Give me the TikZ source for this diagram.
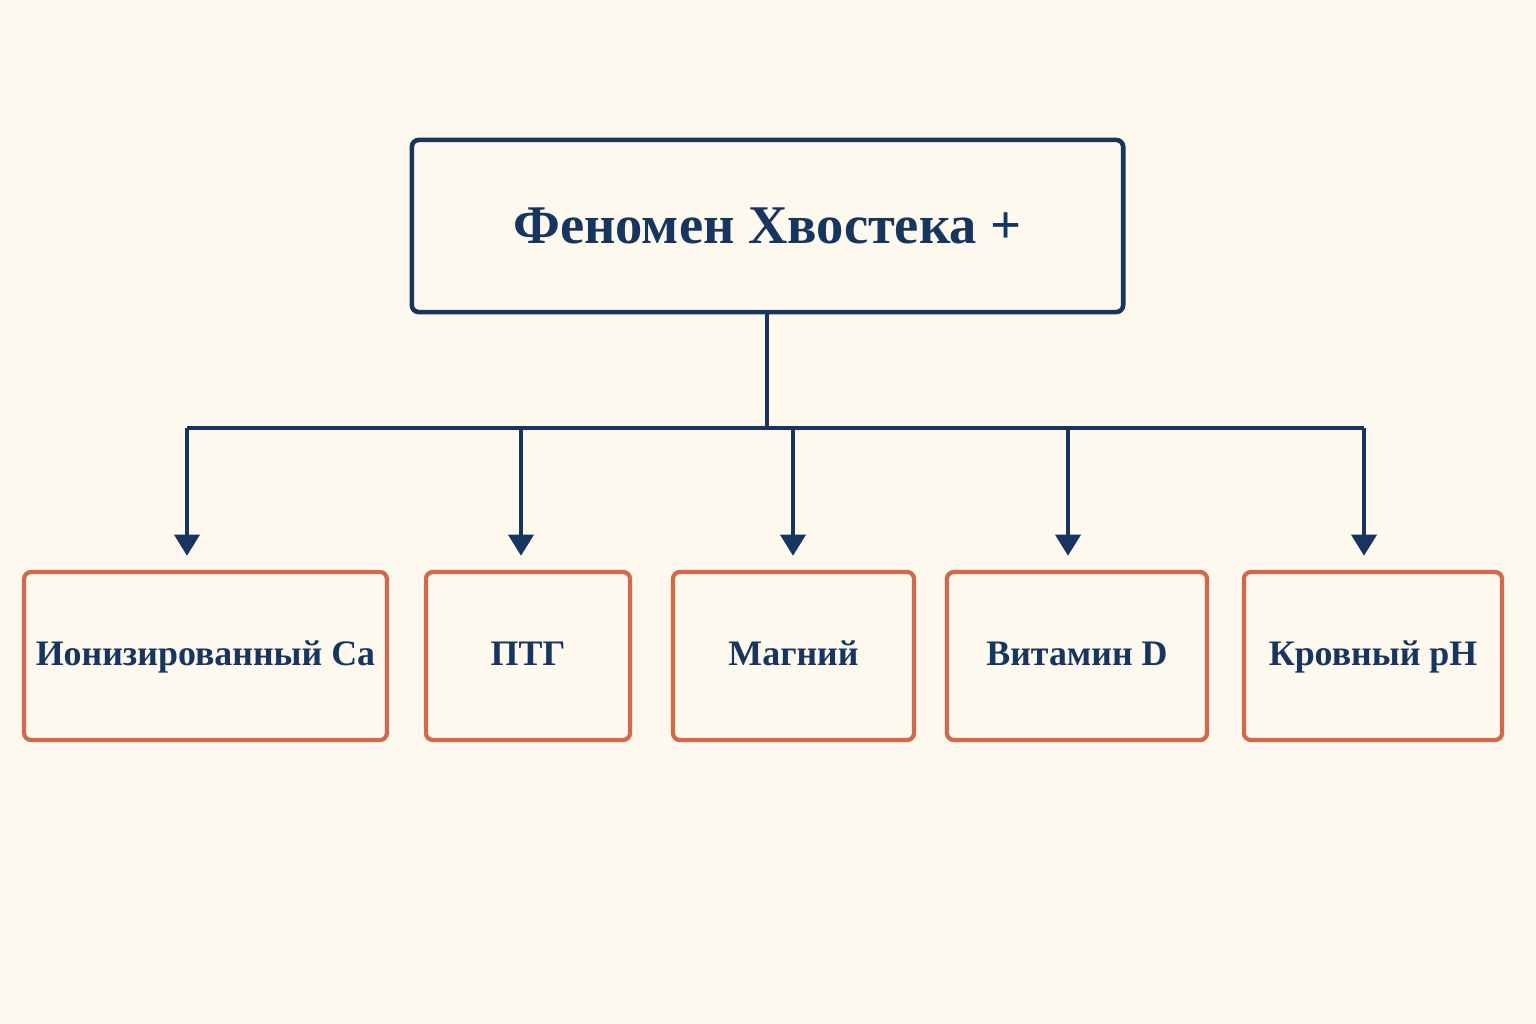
\documentclass[tikz,border=0pt]{standalone}
\usepackage{fontspec}
\setmainfont{Liberation Serif}
\usetikzlibrary{positioning, arrows.meta}
\definecolor{bgcream}{HTML}{FDF9EF}
\definecolor{navy}{HTML}{17355E}
\definecolor{rust}{HTML}{D2694A}
\tikzset{
  head/.style={draw=navy, line width=1.3pt, rounded corners=2pt, fill=bgcream,
    minimum width=7.11cm, minimum height=1.72cm, text=navy,
    font=\fontsize{15.5}{18}\selectfont\bfseries},
  leaf/.style={draw=rust, line width=1.2pt, rounded corners=2pt, fill=bgcream,
    minimum height=1.68cm, text=navy, text height=1.6ex, text depth=0.4ex,
    font=\fontsize{10.2}{12}\selectfont\bfseries},
  link/.style={draw=navy, line width=1.3pt},
  down/.style={link, -{Triangle[width=7pt,length=6pt]}, shorten >=0.14cm}
}
\begin{document}
\begin{tikzpicture}[x=0.01cm, y=-0.01cm]
  \fill[bgcream] (0,0) rectangle (1536,1024);
  \useasboundingbox (0,0) rectangle (1536,1024);

  \node[head] (top) at (767.5,226) {Феномен Хвостека +};

  % leaves
  \node[leaf, minimum width=3.61cm] (ca)  at (205.5,656) {Ионизированный Ca};
  \node[leaf, minimum width=2.04cm] (ptg) at (528,656)   {ПТГ};
  \node[leaf, minimum width=2.41cm] (mg)  at (793.5,656) {Магний};
  \node[leaf, minimum width=2.60cm] (vd)  at (1077,656)  {Витамин D};
  \node[leaf, minimum width=2.58cm] (ph)  at (1373,656)  {Кровный pH};

  % bus
  \coordinate (hub) at (767,428);
  \coordinate (b1) at (187,428);
  \coordinate (b2) at (521,428);
  \coordinate (b3) at (793,428);
  \coordinate (b4) at (1068,428);
  \coordinate (b5) at (1364,428);
  \draw[link] (top.south -| hub) -- (hub);
  \draw[link] (b1) -- (b5);
  \draw[down] (b1) -- (b1 |- ca.north);
  \draw[down] (b2) -- (b2 |- ptg.north);
  \draw[down] (b3) -- (b3 |- mg.north);
  \draw[down] (b4) -- (b4 |- vd.north);
  \draw[down] (b5) -- (b5 |- ph.north);
\end{tikzpicture}
\end{document}
